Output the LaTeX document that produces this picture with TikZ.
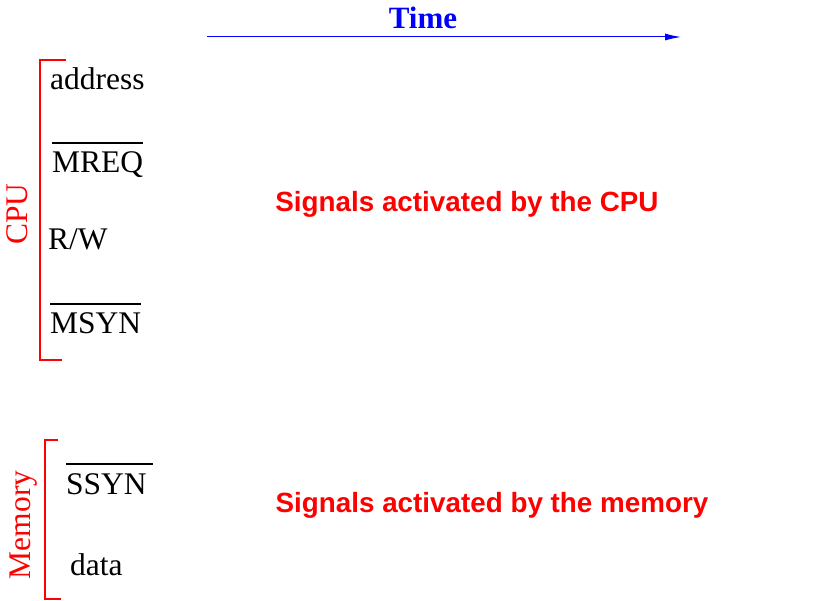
\documentclass[tikz,border=0pt]{standalone}
\usepackage{fontspec}
\setmainfont{Liberation Serif}
\newfontfamily\sigsans{Liberation Sans}
\usetikzlibrary{arrows.meta}
\newcommand\negsig[2][0pt]{\setbox0\hbox{#2}\rlap{\raisebox{29pt}{\rule{\dimexpr\wd0+#1\relax}{1.6pt}}}\box0}
\tikzset{
  sig/.style={anchor=base west, inner sep=0pt, font=\fontsize{31.5}{36}\selectfont},
  grp/.style={red, inner sep=0pt, rotate=90, font=\fontsize{31.5}{36}\selectfont},
  brk/.style={red, line width=1.3pt},
  note/.style={red, inner sep=0pt, anchor=base, font=\sigsans\bfseries\fontsize{27.8}{32}\selectfont},
}
\begin{document}
\begin{tikzpicture}[x=1pt,y=-1pt]
\useasboundingbox (0,0) rectangle (814,601);
% time axis
\coordinate (t0) at (207,37);
\coordinate (t1) at (681,37);
\draw[blue, line width=1pt, -{Latex[length=16pt,width=7pt]}] (t0) -- (t1);
\node[blue, inner sep=0pt, font=\bfseries\fontsize{31}{36}\selectfont, anchor=base] (time) at (423,29) {Time};
% CPU bracket
\coordinate (c1) at (66,60);
\coordinate (c2) at (40,60);
\coordinate (c3) at (40,360);
\coordinate (c4) at (62,360);
\draw[brk] (c1) -- (c2) -- (c3) -- (c4);
\node[grp] (cpu) at (17,214) {CPU};
% Memory bracket
\coordinate (m1) at (58,440);
\coordinate (m2) at (45,440);
\coordinate (m3) at (45,599);
\coordinate (m4) at (61,599);
\draw[brk] (m1) -- (m2) -- (m3) -- (m4);
\node[grp] (mem) at (24,525) {Memory};
% signals
\node[sig] (addr) at (50,90) {address};
\node[sig] (mreq) at (52,173) {\negsig{MREQ}};
\node[sig] (rw) at (48,250) {R/W};
\node[sig] (msyn) at (50,334) {\negsig{MSYN}};
\node[sig] (ssyn) at (66,494) {\negsig[6pt]{SSYN}};
\node[sig] (data) at (70,575) {data};
% notes
\node[note] (ncpu) at (467,212) {Signals activated by the CPU};
\node[note] (nmem) at (492,512) {Signals activated by the memory};
\end{tikzpicture}
\end{document}
